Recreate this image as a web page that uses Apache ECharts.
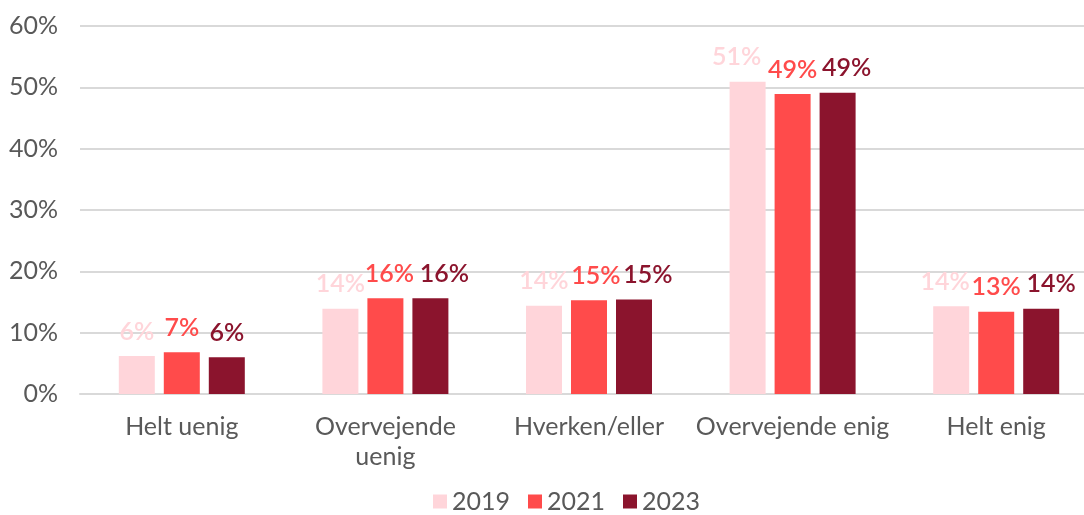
<!DOCTYPE html>
<html>
<head>
<meta charset="utf-8">
<script src="https://cdn.jsdelivr.net/npm/echarts@6/dist/echarts.min.js"></script>
<style>
  html, body { margin: 0; padding: 0; background: #fff; }
  #chart { width: 1084px; height: 515px; }
</style>
</head>
<body>
<div id="chart"></div>
<script>
  var categories = ['Helt uenig', 'Overvejende\nuenig', 'Hverken/eller', 'Overvejende enig', 'Helt enig'];
  var years = ['2019', '2021', '2023'];
  var values2019 = [6.2, 13.9, 14.4, 50.9, 14.3];
  var values2021 = [6.8, 15.6, 15.3, 48.9, 13.4];
  var values2023 = [6.0, 15.6, 15.4, 49.1, 13.9];
  var yTicks = [0, 10, 20, 30, 40, 50, 60];
  var colors = ['#FFD5DA', '#FF4B4B', '#8B142D'];
  // horizontal nudges of the value labels (as placed in the original)
  var labelShift2019 = [0, 0, 0, -11, -6];
  var labelShift2021 = [0, 4, 7, 0, 0];
  var labelShift2023 = [0, 14, 14, 9, 10];

  var chart = echarts.init(document.getElementById('chart'));
  var font = 'Lato, "Noto Sans", sans-serif';

  function makeSeries(name, data, color, shifts) {
    var items = data.map(function (v, i) {
      return { value: v, label: { offset: [shifts[i], 0] } };
    });
    return {
      name: name,
      type: 'bar',
      data: items,
      barWidth: 36,
      barGap: '25%',
      itemStyle: { color: color },
      label: {
        show: true,
        position: 'top',
        distance: 12,
        color: color,
        fontFamily: font,
        fontSize: 25,
        fontWeight: 600,
        formatter: function (p) { return Math.round(p.value) + '%'; }
      }
    };
  }

  var option = {
    animation: false,
    textStyle: { fontFamily: font },
    color: colors,
    grid: { left: 80, width: 1018, top: 26, height: 368, outerBoundsMode: 'none' },
    legend: {
      data: years,
      top: 489,
      left: 433,
      padding: 0,
      itemWidth: 14,
      itemHeight: 14,
      itemGap: 18,
      icon: 'rect',
      textStyle: { color: '#595959', fontSize: 25, fontFamily: font }
    },
    xAxis: {
      type: 'category',
      data: categories,
      axisTick: { show: false },
      axisLine: { lineStyle: { color: '#D9D9D9', width: 2 } },
      axisLabel: { color: '#595959', fontSize: 25, margin: 18, lineHeight: 30, fontFamily: font, interval: 0 }
    },
    yAxis: {
      type: 'value',
      min: yTicks[0],
      max: yTicks[yTicks.length - 1],
      interval: 10,
      axisLabel: {
        color: '#595959', fontSize: 25, margin: 22, fontFamily: font,
        formatter: function (v) { return v + '%'; }
      },
      splitLine: { lineStyle: { color: '#D9D9D9', width: 2 } }
    },
    series: [
      makeSeries(years[0], values2019, colors[0], labelShift2019),
      makeSeries(years[1], values2021, colors[1], labelShift2021),
      makeSeries(years[2], values2023, colors[2], labelShift2023)
    ]
  };
  chart.setOption(option);
</script>
</body>
</html>
